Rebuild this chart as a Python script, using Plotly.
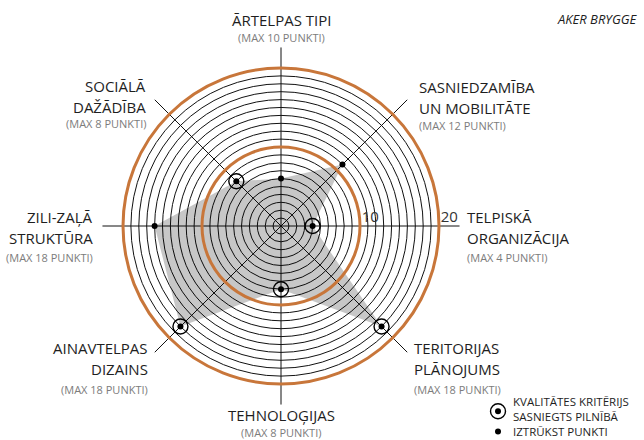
import plotly.graph_objects as go

# ---- data ----
categories = ["\u0100RTELPAS TIPI", "SASNIEDZAM\u012aBA UN MOBILIT\u0100TE", "TELPISK\u0100 ORGANIZ\u0100CIJA",
              "TERITORIJAS PL\u0100NOJUMS", "TEHNOLO\u0122IJAS", "AINAVTELPAS DIZAINS",
              "ZILI-ZA\u013b\u0100 STRUKT\u016aRA", "SOCI\u0100L\u0100 DA\u017d\u0100D\u012aBA"]
label_lines = [["\u0100RTELPAS TIPI"], ["SASNIEDZAM\u012aBA", "UN MOBILIT\u0100TE"],
               ["TELPISK\u0100", "ORGANIZ\u0100CIJA"], ["TERITORIJAS", "PL\u0100NOJUMS"],
               ["TEHNOLO\u0122IJAS"], ["AINAVTELPAS", "DIZAINS"],
               ["ZILI-ZA\u013b\u0100", "STRUKT\u016aRA"], ["SOCI\u0100L\u0100", "DA\u017d\u0100D\u012aBA"]]
scores = [6, 11, 4, 18, 8, 18, 16, 8]
max_points = [10, 12, 4, 18, 8, 18, 18, 8]
ring_ticks = [1, 2, 3, 4, 5, 6, 7, 8, 9, 11, 12, 13, 14, 15, 16, 17, 18, 19]
major_ticks = [10, 20]
major_labels = ["10", "20"]
title_text = "AKER BRYGGE"
legend_full = ["KVALIT\u0100TES KRIT\u0112RIJS", "SASNIEGTS PILN\u012aB\u0100"]
legend_missing = "IZTR\u016aKST PUNKTI"

W, H = 644, 440
FONT = "Open Sans"
ORANGE = "#c8763a"

def px(x):
    return x / W

def py(y):
    return 1 - y / H

cx, cy, unit = 281, 226, 7.9
rmax = 22.6
dom_x = [px(cx - rmax * unit), px(cx + rmax * unit)]
dom_y = [py(cy + rmax * unit), py(cy - rmax * unit)]

fig = go.Figure()

# filled score polygon
fig.add_trace(go.Scatterpolar(
    r=scores + scores[:1], theta=categories + categories[:1],
    mode="lines", fill="toself", fillcolor="rgba(0,0,0,0.22)",
    line=dict(width=0, color="rgba(0,0,0,0)"), hoverinfo="skip", subplot="polar"))

# rings for fully achieved criteria
full_r = [s for s, m in zip(scores, max_points) if s >= m]
full_t = [c for c, s, m in zip(categories, scores, max_points) if s >= m]
fig.add_trace(go.Scatterpolar(
    r=full_r, theta=full_t, mode="markers",
    marker=dict(symbol="circle-open", size=15, color="black", line=dict(width=1.4, color="black")),
    subplot="polar", hoverinfo="skip"))

# dots for all scores
fig.add_trace(go.Scatterpolar(
    r=scores, theta=categories, mode="markers",
    marker=dict(symbol="circle", size=6, color="black"), subplot="polar"))

# orange major rings via an overlaid polar subplot
fig.add_trace(go.Scatterpolar(r=[0], theta=categories[:1], mode="markers",
                              marker=dict(size=1, opacity=0), subplot="polar2", hoverinfo="skip"))

# major tick labels
fig.add_trace(go.Scatterpolar(
    r=[t + 1.3 for t in major_ticks], theta=[categories[2]] * len(major_ticks),
    mode="text", text=major_labels, textposition="top center",
    textfont=dict(family=FONT, size=15, color="#333333"), subplot="polar2", hoverinfo="skip"))

common_angular = dict(categoryarray=categories, rotation=90, direction="clockwise",
                      showline=False, showticklabels=False, ticks="")

fig.update_layout(
    width=W, height=H, margin=dict(l=0, r=0, t=0, b=0),
    paper_bgcolor="white", showlegend=False,
    polar=dict(
        domain=dict(x=dom_x, y=dom_y), bgcolor="white",
        radialaxis=dict(range=[0, rmax], tickvals=ring_ticks, showticklabels=False, ticks="",
                        showline=False, gridcolor="#111111", gridwidth=1.3),
        angularaxis=dict(**common_angular, showgrid=True, gridcolor="#111111", gridwidth=1.3),
    ),
    polar2=dict(
        domain=dict(x=dom_x, y=dom_y), bgcolor="rgba(0,0,0,0)",
        radialaxis=dict(range=[0, rmax], tickvals=major_ticks, showticklabels=False, ticks="",
                        showline=False, gridcolor=ORANGE, gridwidth=2.6),
        angularaxis=dict(**common_angular, showgrid=False),
    ),
)

# legend markers on an invisible cartesian overlay
fig.add_trace(go.Scatter(x=[0.5], y=[0.72], mode="markers",
                         marker=dict(symbol="circle-open", size=15, color="black", line=dict(width=1.4)),
                         xaxis="x", yaxis="y", hoverinfo="skip"))
fig.add_trace(go.Scatter(x=[0.5, 0.5], y=[0.72, 0.21], mode="markers",
                         marker=dict(symbol="circle", size=6, color="black"),
                         xaxis="x", yaxis="y", hoverinfo="skip"))
fig.update_layout(
    xaxis=dict(domain=[px(488), px(508)], range=[0, 1], visible=False, fixedrange=True),
    yaxis=dict(domain=[py(440), py(400)], range=[0, 1], visible=False, fixedrange=True),
    plot_bgcolor="rgba(0,0,0,0)",
)

ann = []

def label(x, y, text, anchor, size=15, color="#1e1e1e", italic=False, align="left"):
    t = f"<i>{text}</i>" if italic else text
    ann.append(dict(x=px(x), y=py(y), xref="paper", yref="paper", text=t, showarrow=False,
                    xanchor=anchor, yanchor="middle", align=align,
                    font=dict(family=FONT, size=size, color=color)))

SUB = dict(size=11, color="#7c7c7c")
# label anchor: (x, anchor, y of first line, line step, y of sub-label)
label_pos = [
    (281, "center", 20, 0, 37),
    (417, "left", 87, 21, 125),
    (465, "left", 217, 21, 257),
    (412, "left", 348, 21, 389),
    (281, "center", 415, 0, 432),
    (150, "right", 348, 21, 389),
    (95, "right", 217, 21, 257),
    (148, "right", 86, 21, 124),
]
for lines, mp, (x, anc, y0, step, ysub) in zip(label_lines, max_points, label_pos):
    for i, ln in enumerate(lines):
        label(x, y0 + i * step, ln, anc)
    label(x, ysub, f"(MAX {mp} PUNKTI)", anc, **SUB)

# title
label(640, 19, title_text, "right", size=13, italic=True)
# legend text (one block, three lines)
label(511, 416.5, "<br>".join(legend_full + [legend_missing]), "left", size=11.5)

fig.update_layout(annotations=ann)
fig.write_html("out.html", config={"displayModeBar": False},
               post_script="document.body.style.margin='0px';")
